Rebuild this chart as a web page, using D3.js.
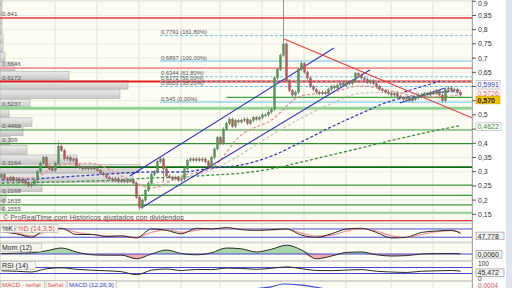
<!DOCTYPE html>
<html>
<head>
<meta charset="utf-8">
<script src="https://cdn.jsdelivr.net/npm/d3@7"></script>
<style>
  body { margin: 0; background: #fff; }
  svg { display: block; font-family: "Liberation Sans", Arial, sans-serif; }
</style>
</head>
<body>
<script>
// ---- datos ----
const closes = [
  0.29, 0.275, 0.27, 0.28, 0.27, 0.275, 0.265, 0.27, 0.26, 0.25,
  0.255, 0.27, 0.30, 0.33, 0.35, 0.32, 0.31, 0.305, 0.33, 0.39,
  0.375, 0.345, 0.35, 0.34, 0.345, 0.32, 0.315, 0.31, 0.315, 0.31,
  0.315, 0.31, 0.305, 0.295, 0.29, 0.28, 0.275, 0.27, 0.275, 0.265,
  0.27, 0.265, 0.27, 0.27, 0.26, 0.21, 0.175, 0.2, 0.235, 0.26,
  0.29, 0.3, 0.335, 0.345, 0.31, 0.285, 0.28, 0.275, 0.28, 0.27,
  0.275, 0.31, 0.34, 0.345, 0.34, 0.345, 0.34, 0.345, 0.335, 0.32,
  0.35, 0.38, 0.42, 0.4, 0.45, 0.47, 0.485, 0.46, 0.48, 0.475,
  0.48, 0.485, 0.47, 0.48, 0.49, 0.485, 0.49, 0.5, 0.5, 0.51,
  0.52, 0.63, 0.66, 0.71, 0.75, 0.62, 0.585, 0.57, 0.58, 0.66,
  0.68, 0.65, 0.63, 0.6, 0.59, 0.58, 0.575, 0.58, 0.575, 0.59,
  0.6, 0.595, 0.605, 0.61, 0.605, 0.615, 0.61, 0.62, 0.645, 0.64,
  0.63, 0.625, 0.615, 0.62, 0.61, 0.6, 0.59, 0.585, 0.58, 0.575,
  0.57, 0.575, 0.565, 0.56, 0.555, 0.56, 0.55, 0.555, 0.56, 0.57,
  0.565, 0.575, 0.57, 0.58, 0.575, 0.585, 0.57, 0.55, 0.59, 0.595,
  0.585, 0.59, 0.58, 0.57
];
const firstOpen = 0.28;
const highOverride = { 19: 0.405, 94: 0.93, 100: 0.69 };
const lowOverride = { 46: 0.165, 54: 0.265 };

// inicio de cada mes (indice de barra)
const monthStarts = [18, 32, 46, 60, 73, 87, 101, 115, 130, 144];

const yTicks = [0.15, 0.2, 0.25, 0.3, 0.35, 0.4, 0.45, 0.5, 0.55, 0.6, 0.65, 0.7, 0.75, 0.8, 0.85, 0.9];
// etiquetas tapadas por las cajas de valor
const hiddenTickLabels = [0.45, 0.55, 0.6];

// soportes / resistencias
const redLevels = [0.841, 0.6646, 0.6172, 0.1275];
const greenLevels = [0.5237, 0.4468, 0.399, 0.3164, 0.253, 0.2168, 0.1835, 0.1555];
const levelLabels = ["0,841", "0,6646", "0,6172", "0,5237", "0,4468", "0,399", "0,3164", "0,2168", "0,1835", "0,1555"];
const levelLabelValues = [0.841, 0.6646, 0.6172, 0.5237, 0.4468, 0.399, 0.3164, 0.2168, 0.1835, 0.1555];
const shortGreen = { from: 75, value: 0.5616 };

// Fibonacci
const fibValues = [0.7791, 0.6897, 0.6344, 0.6172, 0.6001, 0.545];
const fibLabels = ["0,7791 (161,80%)", "0,6897 (100,00%)", "0,6344 (61,80%)", "0,6172 (50,00%)", "0,6001 (38,20%)", "0,545 (0,00%)"];
const fibStart = 52.8;

// perfil de volumen (de abajo hacia arriba)
const profileBase = 0.164, profileStep = 0.03275;
const profileVol = [4, 6, 42, 133, 140, 77, 27, 10, 23, 32, 9, 30, 120, 128, 69, 15, 5, 3, 3, 2, 2, 2, 2];

// medias moviles (muestreadas)
const maIdx = [0, 10, 20, 30, 40, 50, 60, 70, 80, 90, 100, 110, 120, 130, 140, 150, 153];
const maRed = [0.278, 0.278, 0.324, 0.33, 0.285, 0.243, 0.285, 0.313, 0.43, 0.482, 0.567, 0.58, 0.602, 0.584, 0.563, 0.567, 0.5726];
const maGray = [null, null, null, null, null, 0.257, 0.278, 0.306, 0.362, 0.429, 0.489, 0.54, 0.577, 0.58, 0.577, 0.58, 0.58];
const maBlue = [0.271, 0.274, 0.281, 0.288, 0.295, 0.299, 0.299, 0.313, 0.324, 0.355, 0.405, 0.458, 0.506, 0.55, 0.57, 0.584, 0.587];
const maGreen = [0.26, 0.262, 0.264, 0.267, 0.271, 0.278, 0.281, 0.288, 0.295, 0.31, 0.334, 0.359, 0.384, 0.41, 0.434, 0.456, 0.4622];

// lineas de tendencia [indice, precio]
const channelUpper = [[42.8, 0.2849], [110.8, 0.7356]];
const channelLower = [[46.5, 0.1722], [122.8, 0.6581]];
const downTrend = [[94.2, 0.767], [156.8, 0.4897]];
const smallLower = [[132.8, 0.5419], [147.8, 0.5947]];
const smallUpper = [[134.2, 0.5806], [146.2, 0.6194]];

// indicadores (muestreados cada 5 barras)
const indIdx = [0, 5, 10, 15, 20, 25, 30, 35, 40, 45, 50, 55, 60, 65, 70, 75, 80, 85, 90, 95, 100, 105, 110, 115, 120, 125, 130, 135, 140, 145, 150, 153];
const stochK = [60, 45, 20, 80, 85, 40, 40, 25, 30, 15, 80, 70, 45, 85, 80, 90, 75, 70, 75, 80, 35, 20, 45, 80, 85, 55, 15, 20, 55, 65, 70, 47.8];
const stochD = [62, 50, 30, 60, 82, 55, 42, 30, 28, 20, 55, 75, 55, 70, 82, 85, 80, 72, 73, 78, 50, 28, 35, 65, 82, 65, 30, 18, 40, 60, 68, 55];
const mom = [0.01, 0.02, 0.03, 0.08, 0.15, 0.05, -0.02, -0.03, -0.03, -0.12, 0.0, 0.1, 0.01, -0.02, 0.03, 0.15, 0.13, 0.05, 0.12, 0.22, 0.1, -0.12, -0.05, 0.04, 0.05, -0.02, -0.05, -0.04, 0.0, 0.01, 0.01, 0.006];
const rsi = [48, 45, 40, 62, 68, 58, 52, 48, 42, 22, 52, 60, 50, 57, 56, 66, 64, 58, 65, 74, 62, 50, 49, 53, 56, 45, 40, 37, 45, 48, 50, 45.5];
const macdIdx = [65, 70, 75, 80, 85, 90, 94, 100, 105, 110, 115, 120];
const macd = [0.0, 0.02, 0.03, 0.033, 0.034, 0.04, 0.05, 0.046, 0.038, 0.028, 0.02, 0.012];

// ---- lienzo ----
const W = 512, H = 288, plotRight = 472, mainBottom = 222;

const svg = d3.select("body").append("svg")
  .attr("width", W)
  .attr("height", H);

svg.append("rect").attr("width", W).attr("height", H).attr("fill", "#ffffff");
svg.append("rect").attr("x", 506).attr("width", 6).attr("height", H).attr("fill", "#dfe6f2");

const x = d3.scaleLinear().domain([0, closes.length - 1]).range([1.5, 1.5 + 3 * (closes.length - 1)]);
const y = d3.scaleLinear().domain([0.15, 0.9]).range([214.3, 1.3]);

// paneles
const panels = [[0, mainBottom], [223.5, 242], [243, 260.5], [261.5, 280.5], [281.5, 300]];
svg.selectAll(".panel").data(panels).join("rect")
  .attr("class", "panel")
  .attr("x", 0).attr("y", d => d[0])
  .attr("width", plotRight).attr("height", d => d[1] - d[0])
  .attr("fill", "#fcfcf3")
  .attr("stroke", "#c4c4c4").attr("stroke-width", 0.7);

// rejilla vertical
panels.forEach(p => {
  svg.append("g").selectAll("line").data(monthStarts).join("line")
    .attr("x1", d => x(d) - 0.5).attr("x2", d => x(d) - 0.5)
    .attr("y1", p[0]).attr("y2", p[1])
    .attr("stroke", "#e0e0d6").attr("stroke-width", 1);
});

const clip = svg.append("clipPath").attr("id", "mainclip");
clip.append("rect").attr("x", 0).attr("y", 0).attr("width", plotRight).attr("height", mainBottom);
const main = svg.append("g").attr("clip-path", "url(#mainclip)");

// rejilla horizontal
main.selectAll(".hg").data(yTicks).join("line")
  .attr("x1", 0).attr("x2", plotRight)
  .attr("y1", d => y(d)).attr("y2", d => y(d))
  .attr("stroke", "#ebebe2").attr("stroke-width", 1);

// perfil de volumen
const grad = svg.append("defs").append("linearGradient").attr("id", "pgrad").attr("x1", 0).attr("x2", 0).attr("y1", 0).attr("y2", 1);
grad.append("stop").attr("offset", "0%").attr("stop-color", "#ececec");
grad.append("stop").attr("offset", "100%").attr("stop-color", "#c2c2c2");
const pw = d3.scaleLinear().domain([0, 140]).range([0, 140]);
main.selectAll(".prof").data(profileVol).join("rect")
  .attr("x", 0)
  .attr("y", (d, i) => y(profileBase + profileStep * (i + 1)) + 0.5)
  .attr("width", d => pw(d))
  .attr("height", (d, i) => y(profileBase + profileStep * i) - y(profileBase + profileStep * (i + 1)) - 0.8)
  .attr("fill", "url(#pgrad)")
  .attr("stroke", "#a6a6a6").attr("stroke-width", 0.6)
  .attr("opacity", 0.9);

// niveles
const redStyle = [["#e83a3a", 1.6], ["#f29090", 1.6], ["#e61e1e", 2], ["#ec4040", 1.2]];
main.selectAll(".red").data(redLevels).join("line")
  .attr("x1", 0).attr("x2", plotRight)
  .attr("y1", d => y(d)).attr("y2", d => y(d))
  .attr("stroke", (d, i) => redStyle[i][0]).attr("stroke-width", (d, i) => redStyle[i][1]);

const greenStyle = [["#94d394", 3], ["#3c9c3c", 1.2], ["#2e902e", 1.3], ["#0f6a0f", 1.8], ["#3c9c3c", 1.2], ["#3c9c3c", 1.2], ["#3c9c3c", 1.2], ["#8fd08f", 2]];
main.selectAll(".green").data(greenLevels).join("line")
  .attr("x1", 0).attr("x2", plotRight)
  .attr("y1", d => y(d)).attr("y2", d => y(d))
  .attr("stroke", (d, i) => greenStyle[i][0]).attr("stroke-width", (d, i) => greenStyle[i][1]);

main.append("line")
  .attr("x1", x(shortGreen.from)).attr("x2", plotRight)
  .attr("y1", y(shortGreen.value)).attr("y2", y(shortGreen.value))
  .attr("stroke", "#3fa33f").attr("stroke-width", 1.4);

// Fibonacci
const fibSolid = [false, true, false, false, false, true];
main.selectAll(".fib").data(fibValues).join("line")
  .attr("x1", x(fibStart)).attr("x2", plotRight)
  .attr("y1", d => y(d)).attr("y2", d => y(d))
  .attr("stroke", "#6cc3ee").attr("stroke-width", 1)
  .attr("stroke-dasharray", (d, i) => fibSolid[i] ? null : "3,2");
main.selectAll(".fibt").data(fibValues).join("text")
  .attr("x", x(fibStart) + 1)
  .attr("y", d => y(d) - 1.5)
  .attr("font-size", 5.8)
  .attr("fill", "#555")
  .text((d, i) => fibLabels[i]);

// etiquetas de niveles
main.selectAll(".lvl").data(levelLabelValues).join("text")
  .attr("x", 2).attr("y", d => y(d) - 2)
  .attr("font-size", 6.2).attr("fill", "#555")
  .text((d, i) => levelLabels[i]);

// medias moviles
function maLine(vals, color, width) {
  const line = d3.line()
    .defined(d => d[1] !== null)
    .x(d => x(d[0])).y(d => y(d[1]))
    .curve(d3.curveMonotoneX);
  main.append("path")
    .datum(maIdx.map((k, i) => [k, vals[i]]))
    .attr("d", line)
    .attr("fill", "none")
    .attr("stroke", color).attr("stroke-width", width)
    .attr("stroke-dasharray", "3,2");
}
maLine(maGreen, "#3d8f3d", 1.3);
maLine(maGray, "#c4c4c4", 1.2);
maLine(maBlue, "#3340b8", 1.3);
maLine(maRed, "#f08a8a", 1.2);

// lineas de tendencia
function trend(pts, color, dash) {
  main.append("line")
    .attr("x1", x(pts[0][0])).attr("y1", y(pts[0][1]))
    .attr("x2", x(pts[1][0])).attr("y2", y(pts[1][1]))
    .attr("stroke", color).attr("stroke-width", 1.1)
    .attr("stroke-dasharray", dash);
}
trend(channelUpper, "#3232c4");
trend(channelLower, "#3232c4");
trend(downTrend, "#f03a3a");
trend(smallLower, "#3232c4");
trend(smallUpper, "#3232c4", "3,2");

// velas
const candles = closes.map((c, i) => {
  const o = i === 0 ? firstOpen : closes[i - 1];
  return {
    i: i, o: o, c: c,
    h: highOverride[i] !== undefined ? highOverride[i] : Math.max(o, c) + 0.006,
    l: lowOverride[i] !== undefined ? lowOverride[i] : Math.min(o, c) - 0.006
  };
});
const cg = main.append("g");
cg.selectAll(".wick").data(candles).join("line")
  .attr("x1", d => x(d.i)).attr("x2", d => x(d.i))
  .attr("y1", d => y(d.h)).attr("y2", d => y(d.l))
  .attr("stroke", "#7a7a7a").attr("stroke-width", 0.8);
cg.selectAll(".body").data(candles).join("rect")
  .attr("x", d => x(d.i) - 1)
  .attr("width", 2)
  .attr("y", d => y(Math.max(d.o, d.c)))
  .attr("height", d => Math.max(1, Math.abs(y(d.o) - y(d.c))))
  .attr("fill", d => d.c >= d.o ? "#44a444" : "#d24a4a")
  .attr("stroke", "#6f6f6f").attr("stroke-width", 0.4);

// pie del panel principal
main.append("text")
  .attr("x", 3).attr("y", 219.5)
  .attr("font-size", 7.2).attr("fill", "#555")
  .text("© ProRealTime.com  Históricos ajustados con dividendos");

// eje de precios
svg.append("line").attr("x1", plotRight + 0.5).attr("x2", plotRight + 0.5).attr("y1", 0).attr("y2", H).attr("stroke", "#a8a8a8");
const ax = svg.append("g");
ax.selectAll("line").data(yTicks).join("line")
  .attr("x1", plotRight).attr("x2", plotRight + 4)
  .attr("y1", d => y(d)).attr("y2", d => y(d))
  .attr("stroke", "#555");
ax.selectAll("text").data(yTicks.filter(t => !hiddenTickLabels.includes(t))).join("text")
  .attr("x", plotRight + 6).attr("y", d => Math.max(6, y(d) + 2.5))
  .attr("font-size", 7).attr("fill", "#333")
  .text(d => d3.format(".2~f")(d).replace(".", ","));

function badge(txt, cy, color, bg, border, w, bold) {
  const g = svg.append("g");
  g.append("rect").attr("x", plotRight + 4).attr("y", cy - 3.8)
    .attr("width", w).attr("height", 7.6)
    .attr("fill", bg).attr("stroke", border).attr("stroke-width", 0.7);
  g.append("text").attr("x", plotRight + 5.5).attr("y", cy + 2.6)
    .attr("font-size", 7).attr("fill", color)
    .attr("font-weight", bold ? "bold" : null)
    .text(txt);
}
badge("0,5991", y(0.5991) - 2.5, "#3535b5", "#ffffff", "#b8b8b8", 24);
badge("0,5726", y(0.5726) - 1, "#e86a6a", "#ffffff", "#e8c8c8", 24);
badge("0,570", y(0.570) + 5, "#222", "#f2c300", "#d4a800", 24, true);
badge("0,4622", y(0.4622) + 1, "#3a8a3a", "#ffffff", "#b8b8b8", 25);

// ---- indicadores ----
const ys = d3.scaleLinear().domain([0, 100]).range([240, 226.2]);
const ym = d3.scaleLinear().domain([0, 0.25]).range([254, 244]);
const yr = d3.scaleLinear().domain([0, 100]).range([278, 263]);
const yc = d3.scaleLinear().domain([0, 0.05]).range([298, 284]);

function hline(v, sc, color) {
  svg.append("line").attr("x1", 0).attr("x2", plotRight)
    .attr("y1", sc(v)).attr("y2", sc(v))
    .attr("stroke", color).attr("stroke-width", 1);
}
function series(idx, vals, sc, color, width) {
  svg.append("path")
    .datum(idx.map((k, i) => [k, vals[i]]))
    .attr("d", d3.line().x(d => x(d[0])).y(d => sc(d[1])).curve(d3.curveMonotoneX))
    .attr("fill", "none").attr("stroke", color).attr("stroke-width", width);
}

// estocastico
hline(80, ys, "#4848d8");
hline(20, ys, "#4848d8");
series(indIdx, stochD, ys, "#ef8c8c", 1.1);
series(indIdx, stochK, ys, "#2a2a2a", 1);

// momento
const momPts = indIdx.map((k, i) => [k, mom[i]]);
svg.append("path").datum(momPts)
  .attr("d", d3.area().x(d => x(d[0])).y0(ym(0)).y1(d => ym(Math.max(0, d[1]))).curve(d3.curveMonotoneX))
  .attr("fill", "#a8d6a8");
svg.append("path").datum(momPts)
  .attr("d", d3.area().x(d => x(d[0])).y0(ym(0)).y1(d => ym(Math.min(0, d[1]))).curve(d3.curveMonotoneX))
  .attr("fill", "#f2aaaa");
hline(0, ym, "#4848d8");
series(indIdx, mom, ym, "#2a2a2a", 1);

// RSI
hline(70, yr, "#4848d8");
hline(30, yr, "#4848d8");
series(indIdx, rsi, yr, "#2a2a2a", 1);

// MACD
const mclip = svg.append("clipPath").attr("id", "mclip");
mclip.append("rect").attr("x", 0).attr("y", 281.5).attr("width", plotRight).attr("height", 20);
svg.append("path")
  .datum(macdIdx.map((k, i) => [k, macd[i]]))
  .attr("clip-path", "url(#mclip)")
  .attr("d", d3.line().x(d => x(d[0])).y(d => yc(d[1])).curve(d3.curveMonotoneX))
  .attr("fill", "none").attr("stroke", "#3a48d0").attr("stroke-width", 1.2);

// etiquetas de los paneles
function tag(txt, x0, cy, color, w, fs) {
  const size = fs || 7;
  svg.append("rect").attr("x", x0).attr("y", cy - 4)
    .attr("width", w).attr("height", 8)
    .attr("fill", "#f6f6f0").attr("stroke", "#b4b4b4").attr("stroke-width", 0.6);
  svg.append("text").attr("x", x0 + 1.5).attr("y", cy + size * 0.37)
    .attr("font-size", size).attr("fill", color).text(txt);
}
tag("%K", 0.5, 228.5, "#222", 14);
tag("%D (14,3,5)", 16, 228.5, "#e05050", 42);
tag("Mom (12)", 0.5, 247.5, "#222", 41);
tag("RSI (14)", 0.5, 265.5, "#222", 35);
tag("MACD - señal", 0.5, 284.8, "#e05050", 44, 6.2);
tag("Señal", 46, 284.8, "#e05050", 20, 6.2);
tag("MACD (12,26,9)", 67.5, 284.8, "#3a48d0", 49, 6.2);

badge("47,778", ys(47.778) + 2.5, "#222", "#f4f4f4", "#9a9a9a", 28);
badge("0,0060", ym(0.006) + 0.5, "#222", "#f4f4f4", "#9a9a9a", 26);
badge("45,472", yr(45.472) + 1.5, "#222", "#f4f4f4", "#9a9a9a", 28);
svg.append("text").attr("x", plotRight + 6).attr("y", 266).attr("font-size", 6.5).attr("fill", "#333").text("100");
svg.append("text").attr("x", plotRight + 6).attr("y", 281).attr("font-size", 6.5).attr("fill", "#333").text("0");
svg.append("text").attr("x", plotRight + 6).attr("y", 287.5).attr("font-size", 6.5).attr("fill", "#e05050").text("0,0004");
</script>
</body>
</html>
